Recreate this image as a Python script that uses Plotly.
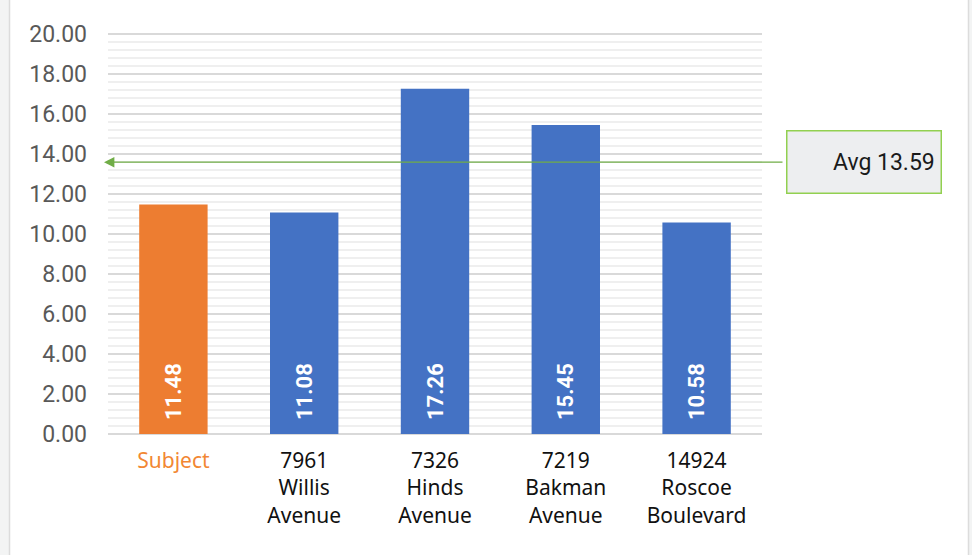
import plotly.graph_objects as go

categories = ["Subject", "7961 Willis Avenue", "7326 Hinds Avenue", "7219 Bakman Avenue", "14924 Roscoe Boulevard"]
tick_labels = ["Subject", "7961<br>Willis<br>Avenue", "7326<br>Hinds<br>Avenue", "7219<br>Bakman<br>Avenue", "14924<br>Roscoe<br>Boulevard"]
values = [11.48, 11.08, 17.26, 15.45, 10.58]
bar_colors = ["#ED7D31", "#4472C4", "#4472C4", "#4472C4", "#4472C4"]
average = 13.59
avg_label = "Avg 13.59"
y_ticks = [0, 2, 4, 6, 8, 10, 12, 14, 16, 18, 20]

W, H = 972, 555
L, R, T, B = 108, 210, 30, 121
pw = W - L - R
ph = H - T - B

def px_to_paper_x(px):
    return (px - L) / pw

def px_to_paper_y(py):
    return (H - B - py) / ph

ticktext = []
for i, t in enumerate(tick_labels):
    if i == 0:
        ticktext.append('<span style="color:#F28733">' + t + '</span>')
    else:
        ticktext.append(t)

fig = go.Figure()
fig.add_trace(go.Bar(
    x=categories, y=values,
    marker=dict(color=bar_colors, line=dict(width=0)),
    texttemplate="\u00a0\u00a0%{y:.2f}",
    textposition="inside",
    insidetextanchor="start",
    textangle=-90,
    textfont=dict(family="Roboto", size=22, color="white", weight="bold"),
    hoverinfo="skip",
))

fig.update_layout(
    width=W, height=H,
    margin=dict(l=L, r=R, t=T, b=B, pad=0),
    paper_bgcolor="#F3F4F4",
    plot_bgcolor="rgba(0,0,0,0)",
    bargap=0.477,
    showlegend=False,
    shapes=[dict(
        type="rect", xref="paper", yref="paper",
        x0=px_to_paper_x(9.5), x1=px_to_paper_x(968.5),
        y0=px_to_paper_y(560), y1=px_to_paper_y(-5),
        fillcolor="white", line=dict(color="#DCDCDC", width=1.5),
        layer="below",
    )],
    annotations=[
        dict(
            xref="paper", yref="y", x=px_to_paper_x(104), y=average,
            xanchor="center", yanchor="middle",
            axref="pixel", ayref="pixel", ax=680, ay=0,
            text="", showarrow=True, arrowhead=2, arrowsize=1.6, arrowwidth=1.3,
            arrowcolor="#70AD47", standoff=0, startstandoff=0,
        ),
        dict(
            xref="paper", yref="y", x=px_to_paper_x(863.5), y=average,
            xanchor="center", yanchor="middle",
            text=avg_label + "\u00a0", showarrow=False,
            width=153, height=61, align="right",
            bgcolor="#EDEEF0", bordercolor="#92D050", borderwidth=1.5, borderpad=0,
            font=dict(family="Roboto", size=23, color="#1A1A1A"),
        ),
    ],
)

fig.update_yaxes(
    range=[0, 20.2], tickvals=y_ticks, tickformat=".2f",
    tickfont=dict(family="Roboto", size=23, color="#595959"),
    showgrid=True, gridcolor="#D9D9D9", gridwidth=1.5,
    minor=dict(dtick=0.4, showgrid=True, gridcolor="#EFEFEF", gridwidth=1.5),
    zeroline=True, zerolinecolor="#D9D9D9", zerolinewidth=2,
    showline=False, ticklabelstandoff=20, fixedrange=True,
)
fig.update_xaxes(
    tickvals=categories, ticktext=ticktext,
    tickfont=dict(family="Noto Sans", size=21, color="#111111"),
    showgrid=False, showline=False, ticks="", ticklabelstandoff=12, fixedrange=True,
)

css_js = (
    "var s=document.createElement('style');"
    "s.textContent='html,body{margin:0;padding:0;overflow:hidden;}';"
    "document.head.appendChild(s);"
)

fig.write_html("out.html", post_script=css_js, config={"displayModeBar": False})
